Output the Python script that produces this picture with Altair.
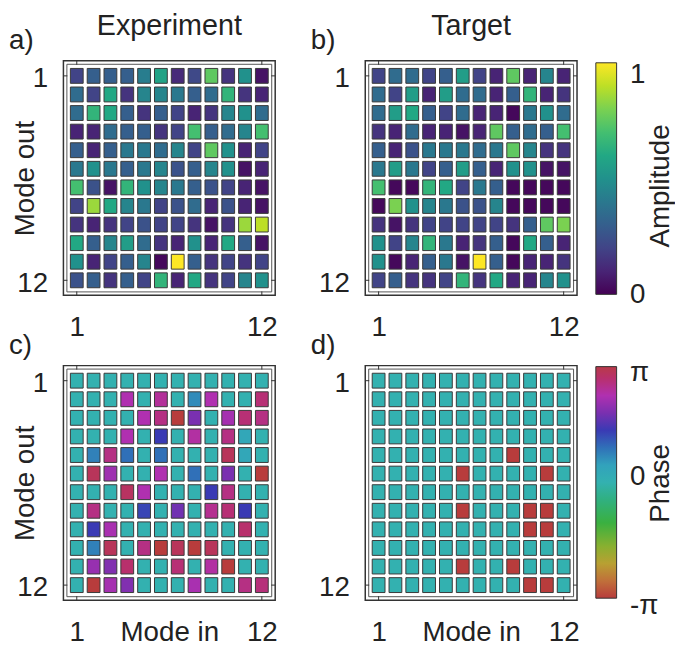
import altair as alt
import pandas as pd

mode_ticks = [1, 12]
column_titles = ["Experiment", "Target"]
panel_letters = ["a)", "b)", "c)", "d)"]

amp_experiment = [
    [0.20, 0.30, 0.30, 0.30, 0.42, 0.58, 0.12, 0.22, 0.75, 0.15, 0.50, 0.05],
    [0.35, 0.20, 0.60, 0.15, 0.45, 0.45, 0.40, 0.30, 0.35, 0.65, 0.15, 0.10],
    [0.35, 0.65, 0.60, 0.30, 0.15, 0.30, 0.20, 0.10, 0.15, 0.45, 0.50, 0.35],
    [0.10, 0.10, 0.35, 0.30, 0.30, 0.15, 0.20, 0.70, 0.30, 0.35, 0.45, 0.70],
    [0.30, 0.10, 0.30, 0.40, 0.40, 0.35, 0.45, 0.20, 0.75, 0.50, 0.10, 0.20],
    [0.40, 0.50, 0.40, 0.30, 0.40, 0.45, 0.25, 0.30, 0.45, 0.50, 0.05, 0.10],
    [0.70, 0.25, 0.05, 0.65, 0.50, 0.45, 0.40, 0.30, 0.25, 0.20, 0.10, 0.05],
    [0.20, 0.85, 0.60, 0.45, 0.40, 0.20, 0.25, 0.35, 0.10, 0.25, 0.10, 0.05],
    [0.15, 0.10, 0.15, 0.20, 0.25, 0.20, 0.20, 0.15, 0.05, 0.15, 0.85, 0.90],
    [0.60, 0.30, 0.45, 0.55, 0.35, 0.15, 0.10, 0.50, 0.10, 0.60, 0.30, 0.05],
    [0.50, 0.10, 0.20, 0.30, 0.45, 0.02, 1.00, 0.30, 0.15, 0.20, 0.15, 0.20],
    [0.25, 0.30, 0.15, 0.30, 0.20, 0.65, 0.10, 0.60, 0.15, 0.20, 0.45, 0.50],
]

amp_target = [
    [0.20, 0.35, 0.35, 0.20, 0.30, 0.55, 0.20, 0.10, 0.75, 0.10, 0.45, 0.10],
    [0.35, 0.20, 0.55, 0.10, 0.55, 0.35, 0.35, 0.10, 0.30, 0.65, 0.10, 0.15],
    [0.35, 0.55, 0.60, 0.30, 0.20, 0.35, 0.10, 0.10, 0.02, 0.40, 0.50, 0.35],
    [0.15, 0.10, 0.35, 0.10, 0.10, 0.05, 0.10, 0.75, 0.30, 0.35, 0.30, 0.70],
    [0.30, 0.10, 0.25, 0.40, 0.40, 0.40, 0.35, 0.40, 0.75, 0.45, 0.15, 0.15],
    [0.40, 0.55, 0.40, 0.20, 0.30, 0.55, 0.30, 0.10, 0.50, 0.50, 0.05, 0.05],
    [0.70, 0.02, 0.02, 0.65, 0.60, 0.20, 0.40, 0.30, 0.02, 0.02, 0.02, 0.02],
    [0.02, 0.80, 0.50, 0.45, 0.40, 0.25, 0.25, 0.45, 0.02, 0.02, 0.02, 0.02],
    [0.15, 0.05, 0.15, 0.20, 0.20, 0.20, 0.20, 0.20, 0.15, 0.30, 0.75, 0.80],
    [0.50, 0.20, 0.45, 0.65, 0.40, 0.10, 0.15, 0.30, 0.02, 0.60, 0.30, 0.10],
    [0.50, 0.02, 0.10, 0.30, 0.40, 0.05, 1.00, 0.30, 0.02, 0.10, 0.10, 0.15],
    [0.20, 0.30, 0.15, 0.15, 0.20, 0.65, 0.15, 0.60, 0.10, 0.10, 0.45, 0.50],
]

# phase in units of pi
phase_experiment = [
    [0, 0, 0, 0, 0, 0, 0, 0, 0, 0, 0, 0],
    [0, 0, 0, 0.75, 0, 0.80, 0, 0.22, 0.75, 0, 0, 0.88],
    [0, 0, 0, 0, 0.75, 0.85, -1, 0.60, 0, 0.72, 0.88, 0.85],
    [0, 0, 0, 0.75, 0, 0.45, 0, 0.78, 0, 0.85, 0.10, 0],
    [0, 0.25, 0.85, 0.30, 0, 0.30, 0, 0, 0, 0.95, 0.10, 0],
    [0, 0.95, 0.70, 0, 0, 0.75, 0, 0.30, 0, 0.60, 0, -1],
    [0, 0, 0, 0.93, 0.75, 0, 0, 0, 0.45, 0.85, 0, 0],
    [0, 0.85, 0, 0, 0.42, 0, 0.58, 0, 0.82, 0.88, 0.45, 0],
    [0, 0.45, 0.73, 0, 0, 0, 0, 0, 0, 0, 0.90, 0],
    [0, 0.25, 0.95, 0, 0.85, -1, 0.95, -1, 0.95, 0, 0, 0],
    [0, 0.68, 0.62, 0.90, 0, 0, 0.88, 0, 0.78, -1, 0, 0],
    [0, -1, 0.72, 0.62, 0, 0, 0, 0.73, 0, 0, 0.85, 0.87],
]

phase_target = [
    [0, 0, 0, 0, 0, 0, 0, 0, 0, 0, 0, 0],
    [0, 0, 0, 0, 0, 0, 0, 0, 0, 0, 0, 0],
    [0, 0, 0, 0, 0, 0, 0, 0, 0, 0, 0, 0],
    [0, 0, 0, 0, 0, 0, 0, 0, 0, 0, 0, 0],
    [0, 0, 0, 0, 0, 0, 0, 0, -1, 0, 0, 0],
    [0, 0, 0, 0, 0, -1, 0, 0, 0, 0, -1, 0],
    [0, 0, 0, 0, 0, 0, 0, 0, 0, 0, 0, 0],
    [0, 0, 0, 0, 0, -1, 0, 0, 0, -1, -1, 0],
    [0, 0, 0, 0, 0, 0, 0, 0, 0, -1, -1, 0],
    [0, 0, 0, 0, 0, 0, 0, 0, 0, 0, 0, 0],
    [0, 0, 0, 0, 0, -1, 0, 0, -1, 0, 0, 0],
    [0, 0, 0, 0, 0, 0, 0, 0, 0, -1, -1, 0],
]

viridis_values = [0.0, 0.1, 0.2, 0.3, 0.4, 0.5, 0.6, 0.7, 0.8, 0.9, 1.0]
viridis_colors = ["#440154", "#482475", "#414487", "#355f8d", "#2a788e", "#21918c",
                  "#22a884", "#44bf70", "#7ad151", "#bddf26", "#fde725"]

phase_values = [-1.0, -0.85, -0.7, -0.55, -0.35, -0.15, 0.0, 0.15, 0.3, 0.45, 0.6, 0.75, 0.9, 1.0]
phase_colors = ["#b83c3c", "#c0703a", "#b8a032", "#88b030", "#3ab040", "#30b080", "#33b1b0",
                "#32a2bc", "#3070b8", "#3a3ab4", "#7a30b0", "#b030b0", "#b8306c", "#b83a48"]

FONT = "Liberation Sans"
TXT = "#222222"
FS = 28
W, H = 214, 237
XS = dict(domain=[0.206, 12.794], nice=False, zero=False)
YS = dict(domain=[0.19, 12.81], nice=False, zero=False, reverse=True)


def to_long(mat):
    return pd.DataFrame([{"row": r + 1, "col": c + 1, "v": mat[r][c]}
                         for r in range(12) for c in range(12)])


def panel(mat, color_scale, letter, title_text, ytitle, xtitle):
    xaxis = alt.Axis(values=mode_ticks, format="d", ticks=False, tickSize=0, domain=False,
                     grid=False, labelFontSize=FS, labelPadding=33, labelBaseline="middle",
                     labelFlush=False, title=xtitle, titleFontSize=FS,
                     titleFontWeight="normal", titleX=W / 2, titleY=33,
                     titleBaseline="middle", titleAlign="center")
    yaxis = alt.Axis(values=mode_ticks, format="d", ticks=False, tickSize=0, domain=False,
                     grid=False, labelFontSize=FS, labelPadding=16, labelOffset=3,
                     labelFlush=False, title=ytitle, titleFontSize=FS,
                     titleFontWeight="normal", titleX=-38, titleY=H / 2, titleAngle=270,
                     titleBaseline="middle", titleAlign="center")
    cells = alt.Chart(to_long(mat)).transform_calculate(
        x0="datum.col - 0.38", x1="datum.col + 0.38",
        y0="datum.row - 0.4", y1="datum.row + 0.4",
    ).mark_rect(stroke="#3a3a3a", strokeWidth=1).encode(
        x=alt.X("x0:Q", scale=alt.Scale(**XS), axis=xaxis),
        x2="x1:Q",
        y=alt.Y("y0:Q", scale=alt.Scale(**YS), axis=yaxis),
        y2="y1:Q",
        color=alt.Color("v:Q", scale=color_scale, legend=None),
    )
    tdf = pd.DataFrame({"t": mode_ticks})
    rule = alt.Chart(tdf).mark_rule(color="#333333", strokeWidth=1)
    tx = alt.X("t:Q", scale=alt.Scale(**XS), axis=xaxis)
    ty = alt.Y("t:Q", scale=alt.Scale(**YS), axis=yaxis)
    t_top = rule.encode(x=tx, y=alt.value(0), y2=alt.value(4))
    t_bot = rule.encode(x=tx, y=alt.value(H - 4), y2=alt.value(H))
    t_left = rule.encode(y=ty, x=alt.value(0), x2=alt.value(4))
    t_right = rule.encode(y=ty, x=alt.value(W - 4), x2=alt.value(W))
    one = pd.DataFrame({"k": [0]})
    inner = alt.Chart(one).mark_rect(filled=False, stroke="#555555", strokeWidth=1).encode(
        x=alt.value(3.5), x2=alt.value(W - 3.5), y=alt.value(3.5), y2=alt.value(H - 3.5))
    layers = [cells, inner, t_top, t_bot, t_left, t_right]
    ldf = pd.DataFrame({"s": [letter]})
    layers.append(alt.Chart(ldf).mark_text(align="left", baseline="alphabetic", font=FONT,
                                           fontSize=FS, color=TXT).encode(
        x=alt.value(-55), y=alt.value(-12), text="s:N"))
    if title_text:
        tt = pd.DataFrame({"s": [title_text]})
        layers.append(alt.Chart(tt).mark_text(align="center", baseline="alphabetic", font=FONT,
                                              fontSize=29, color=TXT).encode(
            x=alt.value(W / 2), y=alt.value(-26), text="s:N"))
    return alt.layer(*layers)


def colorbar(vals, cols, lo, hi, dom, tick_values, label_expr, offset_expr, title, title_y):
    stops = [alt.GradientStop(offset=(v - lo) / (hi - lo), color=c) for v, c in zip(vals, cols)]
    grad = alt.Gradient(gradient="linear", stops=stops, x1=0, x2=0, y1=1, y2=0)
    df = pd.DataFrame({"lo": [lo], "hi": [hi]})
    axis = alt.Axis(orient="right", offset=40, values=tick_values, labelExpr=label_expr,
                    labelOffset=alt.ExprRef(expr=offset_expr), labelPadding=13,
                    labelFontSize=FS, labelBaseline="middle", labelFlush=False,
                    ticks=False, tickSize=0, domain=False, grid=False,
                    title=title, titleFontSize=FS, titleFontWeight="normal",
                    titleAngle=270, titleX=44, titleY=title_y,
                    titleBaseline="middle", titleAlign="center")
    return alt.Chart(df).mark_rect(fill=grad, stroke="#333333", strokeWidth=1).encode(
        x=alt.value(W + 19), x2=alt.value(W + 40),
        y=alt.Y("lo:Q", scale=alt.Scale(domain=dom, nice=False, zero=False), axis=axis),
        y2="hi:Q",
    )


amp_scale = alt.Scale(domain=viridis_values, range=viridis_colors, interpolate="rgb")
phase_scale = alt.Scale(domain=phase_values, range=phase_colors, interpolate="rgb")

cb_amp = colorbar(viridis_values, viridis_colors, 0.0, 1.0, [-0.00427, 1.00855], [0, 1],
                  "datum.value > 0.5 ? '1' : '0'",
                  "datum.value > 0.5 ? 12 : 0", "Amplitude", 126)
cb_phase = colorbar(phase_values, phase_colors, -1.0, 1.0, [-1.0171, 1.00855], [-1, 0, 1],
                    "datum.value > 0.5 ? 'π' : (datum.value < -0.5 ? '-π' : '0')",
                    "datum.value > 0.5 ? 6 : (datum.value < -0.5 ? 7 : -6)", "Phase", 118.5)

pa = panel(amp_experiment, amp_scale, panel_letters[0], column_titles[0], "Mode out", None)
pb = alt.layer(panel(amp_target, amp_scale, panel_letters[1], column_titles[1], None, None),
               cb_amp).resolve_scale(y="independent")
pc = panel(phase_experiment, phase_scale, panel_letters[2], None, "Mode out", "Mode in")
pd_ = alt.layer(panel(phase_target, phase_scale, panel_letters[3], None, None, "Mode in"),
                cb_phase).resolve_scale(y="independent")

chart = alt.concat(
    pa.properties(width=W, height=H),
    pb.properties(width=W, height=H),
    pc.properties(width=W, height=H),
    pd_.properties(width=W, height=H),
    columns=2, spacing={"row": 71, "column": 91}, bounds="flush",
).resolve_scale(
    color="independent"
).properties(
    padding={"left": 0, "top": 0, "right": 0, "bottom": 0}
).configure_view(
    stroke="#333333", strokeWidth=1.5
).configure_axis(
    labelFont=FONT, titleFont=FONT, labelColor=TXT, titleColor=TXT
)

chart.save("out.html", embed_options={"renderer": "svg", "actions": False})
